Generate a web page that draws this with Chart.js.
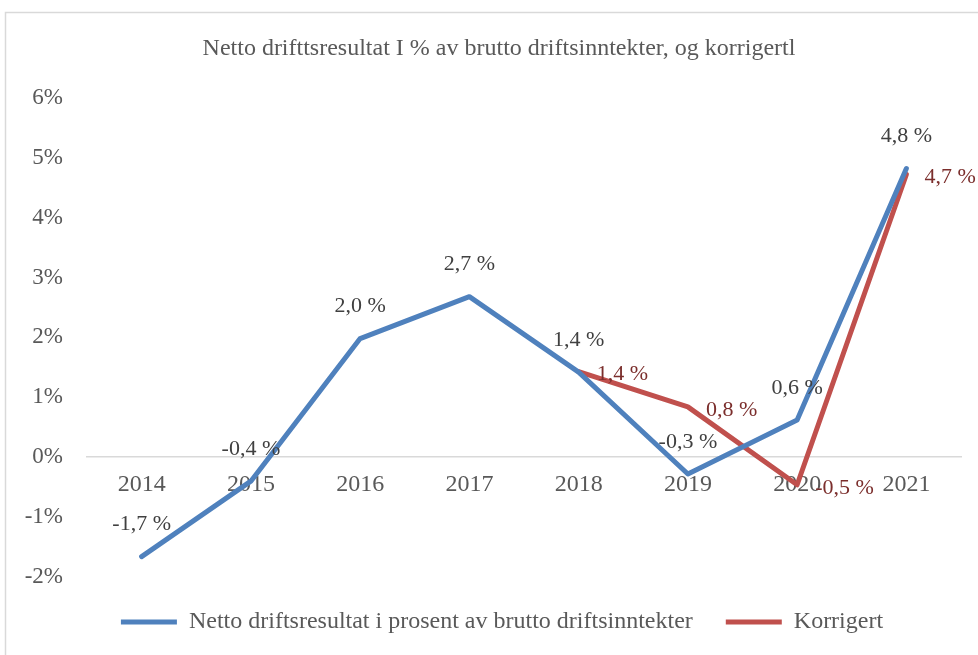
<!DOCTYPE html>
<html>
<head>
<meta charset="utf-8">
<script src="https://cdn.jsdelivr.net/npm/chart.js@4"></script>
<style>
  html, body { margin: 0; padding: 0; background: #fff; }
  #chart { display: block; }
</style>
</head>
<body>
<canvas id="chart" width="978" height="655"></canvas>
<script>
const years = ["2014", "2015", "2016", "2017", "2018", "2019", "2020", "2021"];
const netto = [-1.66, -0.40, 1.98, 2.68, 1.42, -0.28, 0.62, 4.82];
const korrigert = [null, null, null, null, 1.43, 0.84, -0.46, 4.72];
const yTicks = [-2, -1, 0, 1, 2, 3, 4, 5, 6];

const serif = "'Liberation Serif', 'Times New Roman', serif";
const textGrey = "#595959";

// frame round the chart
const frame = {
  id: "frame",
  beforeDraw(chart) {
    const ctx = chart.ctx;
    ctx.save();
    ctx.strokeStyle = "#d9d9d9";
    ctx.lineWidth = 1.5;
    ctx.strokeRect(5.5, 12.5, 1000, 700);
    ctx.restore();
  },
};

// title and legend sit a little right of the plot centre in the original
const nudge = {
  id: "nudge",
  afterLayout(chart) {
    const t = chart.titleBlock;
    if (t) { t.left += 12; t.right += 12; }
    const l = chart.legend;
    if (l) { l.left += 15; l.right += 15; }
  },
};

// value labels: blue above the point, red to the right
const valueLabels = {
  id: "valueLabels",
  afterDatasetsDraw(chart) {
    const ctx = chart.ctx;
    ctx.save();
    ctx.font = "22px " + serif;
    chart.data.datasets.forEach((ds, i) => {
      const meta = chart.getDatasetMeta(i);
      meta.data.forEach((pt, j) => {
        const v = ds.data[j];
        if (v === null || v === undefined) return;
        const txt = v.toFixed(1).replace(".", ",") + " %";
        if (i === 0) {
          ctx.fillStyle = "#404040";
          ctx.textAlign = "center";
          ctx.textBaseline = "middle";
          ctx.fillText(txt, pt.x, pt.y - 32);
        } else {
          ctx.fillStyle = "#7b2e2c";
          ctx.textAlign = "left";
          ctx.textBaseline = "middle";
          ctx.fillText(txt, pt.x + 18, pt.y + 3);
        }
      });
    });
    ctx.restore();
  },
};

new Chart(document.getElementById("chart"), {
  type: "line",
  data: {
    labels: years,
    datasets: [
      {
        label: "Netto driftsresultat i prosent av brutto driftsinntekter",
        data: netto,
        borderColor: "#4f81bd",
        backgroundColor: "#4f81bd",
        borderWidth: 5,
        borderCapStyle: "round",
        borderJoinStyle: "round",
        pointRadius: 0,
        tension: 0,
      },
      {
        label: "Korrigert",
        data: korrigert,
        borderColor: "#c0504d",
        backgroundColor: "#c0504d",
        borderWidth: 5,
        borderCapStyle: "round",
        borderJoinStyle: "round",
        pointRadius: 0,
        tension: 0,
      },
    ],
  },
  options: {
    responsive: false,
    animation: false,
    layout: { padding: { left: 13, right: 17, top: 0, bottom: 11 } },
    plugins: {
      title: {
        display: true,
        text: "Netto drifttsresultat I % av brutto driftsinntekter, og korrigertl",
        color: textGrey,
        font: { family: serif, size: 24, weight: "normal" },
        padding: { top: 34, bottom: 35 },
      },
      legend: {
        position: "bottom",
        labels: {
          color: textGrey,
          font: { family: serif, size: 24 },
          usePointStyle: true,
          pointStyle: "line",
          pointStyleWidth: 56,
          padding: 33,
        },
      },
      tooltip: { enabled: false },
    },
    scales: {
      x: {
        type: "category",
        offset: true,
        position: { y: 0 },
        grid: { display: false, drawTicks: false, offset: true },
        border: { display: true, color: "#d9d9d9", width: 1.5 },
        ticks: {
          color: textGrey,
          font: { family: serif, size: 24 },
          padding: 13,
          maxRotation: 0,
          autoSkip: false,
        },
      },
      y: {
        min: yTicks[0],
        max: yTicks[yTicks.length - 1],
        afterBuildTicks(scale) {
          scale.ticks = yTicks.map((v) => ({ value: v }));
        },
        afterFit(scale) {
          scale.width = 74;
        },
        grid: { display: false, drawTicks: false },
        border: { display: false },
        ticks: {
          color: textGrey,
          font: { family: serif, size: 23 },
          padding: 24,
          callback: (v) => v + "%",
        },
      },
    },
  },
  plugins: [frame, nudge, valueLabels],
});
</script>
</body>
</html>
